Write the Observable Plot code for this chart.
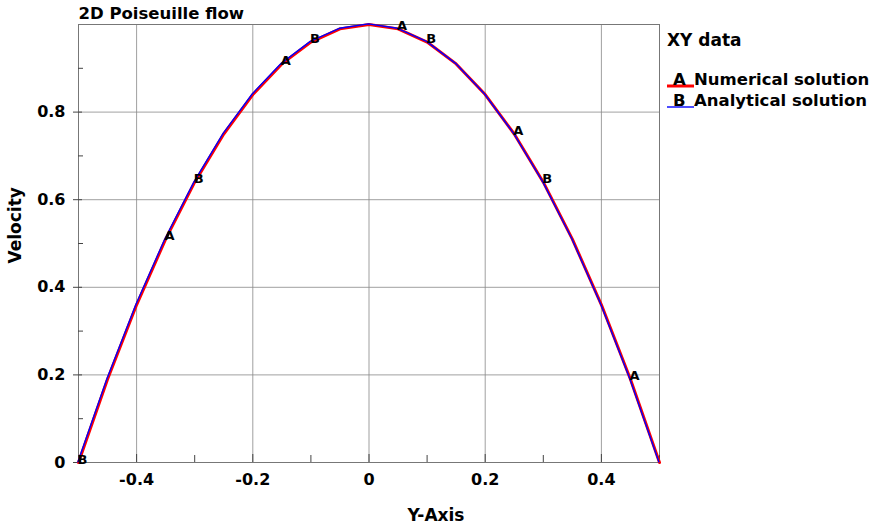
<!DOCTYPE html>
<html>
<head>
<meta charset="utf-8">
<script src="https://cdn.jsdelivr.net/npm/d3@7"></script>
<script src="https://cdn.jsdelivr.net/npm/@observablehq/plot@0.6"></script>
<style>
  body { margin: 0; background: #fff; }
  svg { font-family: "DejaVu Sans", sans-serif; }
</style>
</head>
<body>
<div id="chart"></div>
<script>
const yPos = [-0.5, -0.45, -0.4, -0.35, -0.3, -0.25, -0.2, -0.15, -0.1, -0.05, 0, 0.05, 0.1, 0.15, 0.2, 0.25, 0.3, 0.35, 0.4, 0.45, 0.5];
const numerical = [0, 0.19, 0.36, 0.51, 0.64, 0.75, 0.84, 0.91, 0.96, 0.99, 1.0, 0.99, 0.96, 0.91, 0.84, 0.75, 0.64, 0.51, 0.36, 0.19, 0];
const analytical = [0, 0.19, 0.36, 0.51, 0.64, 0.75, 0.84, 0.91, 0.96, 0.99, 1.0, 0.99, 0.96, 0.91, 0.84, 0.75, 0.64, 0.51, 0.36, 0.19, 0];
const labelA_x = [-0.35, -0.15, 0.05, 0.25, 0.45];
const labelB_x = [-0.5, -0.3, -0.1, 0.1, 0.3];
const xMajor = [-0.4, -0.2, 0, 0.2, 0.4];
const xMinor = [-0.5, -0.3, -0.1, 0.1, 0.3, 0.5];
const yMajor = [0, 0.2, 0.4, 0.6, 0.8];
const yMinor = [0.1, 0.3, 0.5, 0.7, 0.9];
const seriesNames = ["Numerical solution", "Analytical solution"];
const seriesLetters = ["A", "B"];
const seriesColors = ["red", "blue"];

const numData = yPos.map((x, i) => ({x, v: numerical[i]}));
const anaData = yPos.map((x, i) => ({x, v: analytical[i]}));
const aPts = labelA_x.map(x => numData.find(d => Math.abs(d.x - x) < 1e-9));
const bPts = labelB_x.map(x => anaData.find(d => Math.abs(d.x - x) < 1e-9));

const fmt = d => Math.abs(d) < 1e-9 ? "0" : d3.format(".1f")(d).replace("\u2212", "-");

const plot = Plot.plot({
  width: 870,
  height: 527,
  marginLeft: 78,
  marginRight: 211,
  marginTop: 24,
  marginBottom: 65,
  style: {fontFamily: "DejaVu Sans, sans-serif", background: "#fff", color: "#000"},
  x: {domain: [-0.5, 0.5], axis: null},
  y: {domain: [0, 1], axis: null},
  marks: [
    Plot.gridX(xMajor, {stroke: "#888", strokeOpacity: 0.8, strokeWidth: 1}),
    Plot.gridY(yMajor.filter(d => d > 0), {stroke: "#888", strokeOpacity: 0.8, strokeWidth: 1}),
    Plot.frame({stroke: "#777", strokeWidth: 1}),
    // x ticks (inside)
    Plot.axisX(xMajor, {tickSize: -8, text: null, stroke: "#444", label: null}),
    Plot.axisX(xMinor, {tickSize: -7, text: null, stroke: "#444", label: null}),
    Plot.axisX(xMajor, {tickSize: 0, tickPadding: 11, tickFormat: fmt, fontSize: 16, fontWeight: "bold", label: null}),
    // y ticks
    Plot.axisY(yMajor, {tickSize: 5, text: null, stroke: "#444", label: null}),
    Plot.axisY(yMajor, {tickSize: -4, text: null, stroke: "#444", label: null}),
    Plot.axisY(yMinor, {tickSize: -5, text: null, stroke: "#444", label: null}),
    Plot.axisY(yMajor, {tickSize: 0, tickPadding: 13, tickFormat: fmt, fontSize: 16, fontWeight: "bold", label: null}),
    // axis titles
    Plot.text(["Y-Axis"], {frameAnchor: "bottom", dx: 67, dy: 58, fontSize: 17, fontWeight: "bold"}),
    Plot.text(["Velocity"], {frameAnchor: "left", dx: -63, dy: 20, rotate: -90, fontSize: 17, fontWeight: "bold"}),
    Plot.text(["2D Poiseuille flow"], {frameAnchor: "top-left", dy: -17, textAnchor: "start", fontSize: 16.5, fontWeight: "bold"}),
    // lines
    Plot.line(numData, {x: "x", y: "v", stroke: seriesColors[0], strokeWidth: 3}),
    Plot.line(anaData, {x: "x", y: "v", stroke: seriesColors[1], strokeWidth: 1.4, dx: -0.6, dy: -0.6}),
    Plot.text(aPts, {x: "x", y: "v", text: () => "A", fontSize: 13, fontWeight: "bold", dx: 4, dy: -3}),
    Plot.text(bPts, {x: "x", y: "v", text: () => "B", fontSize: 13, fontWeight: "bold", dx: 4, dy: -3})
  ]
});

const svg = d3.select(plot);
const lg = svg.append("g").attr("font-family", "DejaVu Sans, sans-serif").attr("font-weight", "bold").attr("text-anchor", "start");
lg.append("text").attr("x", 667).attr("y", 46).attr("font-size", 17).text("XY data");
seriesNames.forEach((name, i) => {
  const y = 86 + i * 21;
  lg.append("line").attr("x1", 667).attr("x2", 694).attr("y1", y).attr("y2", y)
    .attr("stroke", seriesColors[i]).attr("stroke-width", i === 0 ? 3 : 1.4);
  lg.append("text").attr("x", 673).attr("y", y - 1).attr("font-size", 16.5).text(seriesLetters[i]);
  lg.append("text").attr("x", 694).attr("y", y - 1).attr("font-size", 16.5).text(name);
});

document.getElementById("chart").appendChild(plot);
</script>
</body>
</html>
